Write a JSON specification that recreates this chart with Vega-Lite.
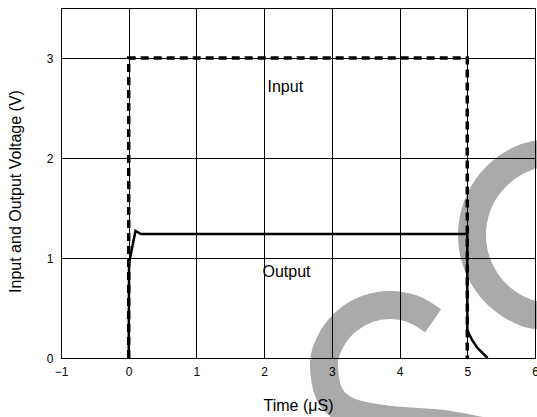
{
  "$schema": "https://vega.github.io/schema/vega-lite/v6.json",
  "width": 474,
  "height": 350,
  "autosize": {"type": "none"},
  "padding": {"left": 61, "top": 8, "right": 2, "bottom": 59},
  "config": {
    "font": "Liberation Sans",
    "view": {"stroke": "#000", "strokeWidth": 1},
    "axis": {
      "grid": true, "gridColor": "#000", "gridOpacity": 1, "gridWidth": 1,
      "domainColor": "#000", "domainWidth": 1,
      "ticks": false, "tickSize": 0,
      "labelFontSize": 12, "labelColor": "#000", "labelPadding": 8,
      "titleFontSize": 16, "titleFontWeight": "normal", "titleColor": "#000"
    }
  },
  "encoding": {
    "x": {"field": "t", "type": "quantitative",
      "scale": {"domain": [-1, 6], "nice": false, "zero": false},
      "axis": {"zindex": 1, "values": [-1, 0, 1, 2, 3, 4, 5, 6], "title": "Time (μS)", "titleY": 52, "titleBaseline": "alphabetic", "labelFlush": false}},
    "y": {"field": "v", "type": "quantitative",
      "scale": {"domain": [0, 3.5], "nice": false},
      "axis": {"zindex": 1, "values": [0, 1, 2, 3], "title": "Input and Output Voltage (V)", "titleX": -41, "titleY": 183, "titleBaseline": "alphabetic"}}
  },
  "layer": [
    {
      "data": {"values": [
        {"s": "a", "i": 1, "t": 6.296, "v": 2.06},
        {"s": "a", "i": 2, "t": 5.877, "v": 2.01},
        {"s": "a", "i": 3, "t": 5.507, "v": 1.866},
        {"s": "a", "i": 4, "t": 5.234, "v": 1.645},
        {"s": "a", "i": 5, "t": 5.088, "v": 1.374},
        {"s": "a", "i": 6, "t": 5.088, "v": 1.086},
        {"s": "a", "i": 7, "t": 5.234, "v": 0.815},
        {"s": "a", "i": 8, "t": 5.507, "v": 0.594},
        {"s": "a", "i": 9, "t": 5.877, "v": 0.45},
        {"s": "a", "i": 10, "t": 6.296, "v": 0.40},
        {"s": "a", "i": 11, "t": 6.81, "v": 0.28},
        {"s": "b", "i": 1, "t": 4.496, "v": 0.373},
        {"s": "b", "i": 2, "t": 4.197, "v": 0.49},
        {"s": "b", "i": 3, "t": 3.859, "v": 0.53},
        {"s": "b", "i": 4, "t": 3.521, "v": 0.49},
        {"s": "b", "i": 5, "t": 3.223, "v": 0.373},
        {"s": "b", "i": 6, "t": 3.003, "v": 0.195},
        {"s": "b", "i": 7, "t": 2.884, "v": -0.04},
        {"s": "b", "i": 8, "t": 2.97, "v": -0.37},
        {"s": "b", "i": 9, "t": 3.27, "v": -0.54},
        {"s": "b", "i": 10, "t": 3.86, "v": -0.62},
        {"s": "b", "i": 11, "t": 4.75, "v": -0.67},
        {"s": "b", "i": 12, "t": 5.78, "v": -0.82}
      ]},
      "mark": {"type": "line", "color": "#aaaaaa", "strokeWidth": 28, "strokeCap": "butt", "interpolate": "cardinal", "clip": false},
      "encoding": {"detail": {"field": "s"}, "order": {"field": "i"}}
    },
    {
      "data": {"values": [
        {"i": 1, "t": 0, "v": 0},
        {"i": 2, "t": 0, "v": 3},
        {"i": 3, "t": 5, "v": 3},
        {"i": 4, "t": 5, "v": 0}
      ]},
      "mark": {"type": "line", "color": "#000", "strokeWidth": 3.5, "strokeDash": [8, 5]},
      "encoding": {"order": {"field": "i"}}
    },
    {
      "data": {"values": [
        {"i": 1, "t": 0, "v": 0},
        {"i": 2, "t": 0.005, "v": 0.95},
        {"i": 3, "t": 0.1, "v": 1.27},
        {"i": 4, "t": 0.18, "v": 1.24},
        {"i": 5, "t": 5, "v": 1.24},
        {"i": 6, "t": 5, "v": 0.28},
        {"i": 7, "t": 5.07, "v": 0.18},
        {"i": 8, "t": 5.15, "v": 0.1},
        {"i": 9, "t": 5.3, "v": 0}
      ]},
      "mark": {"type": "line", "color": "#000", "strokeWidth": 2.5},
      "encoding": {"order": {"field": "i"}}
    },
    {
      "data": {"values": [
        {"t": 2.05, "v": 2.66, "label": "Input"},
        {"t": 1.975, "v": 0.81, "label": "Output"}
      ]},
      "mark": {"type": "text", "align": "left", "baseline": "alphabetic", "fontSize": 16, "color": "#000"},
      "encoding": {"text": {"field": "label"}}
    }
  ]
}
